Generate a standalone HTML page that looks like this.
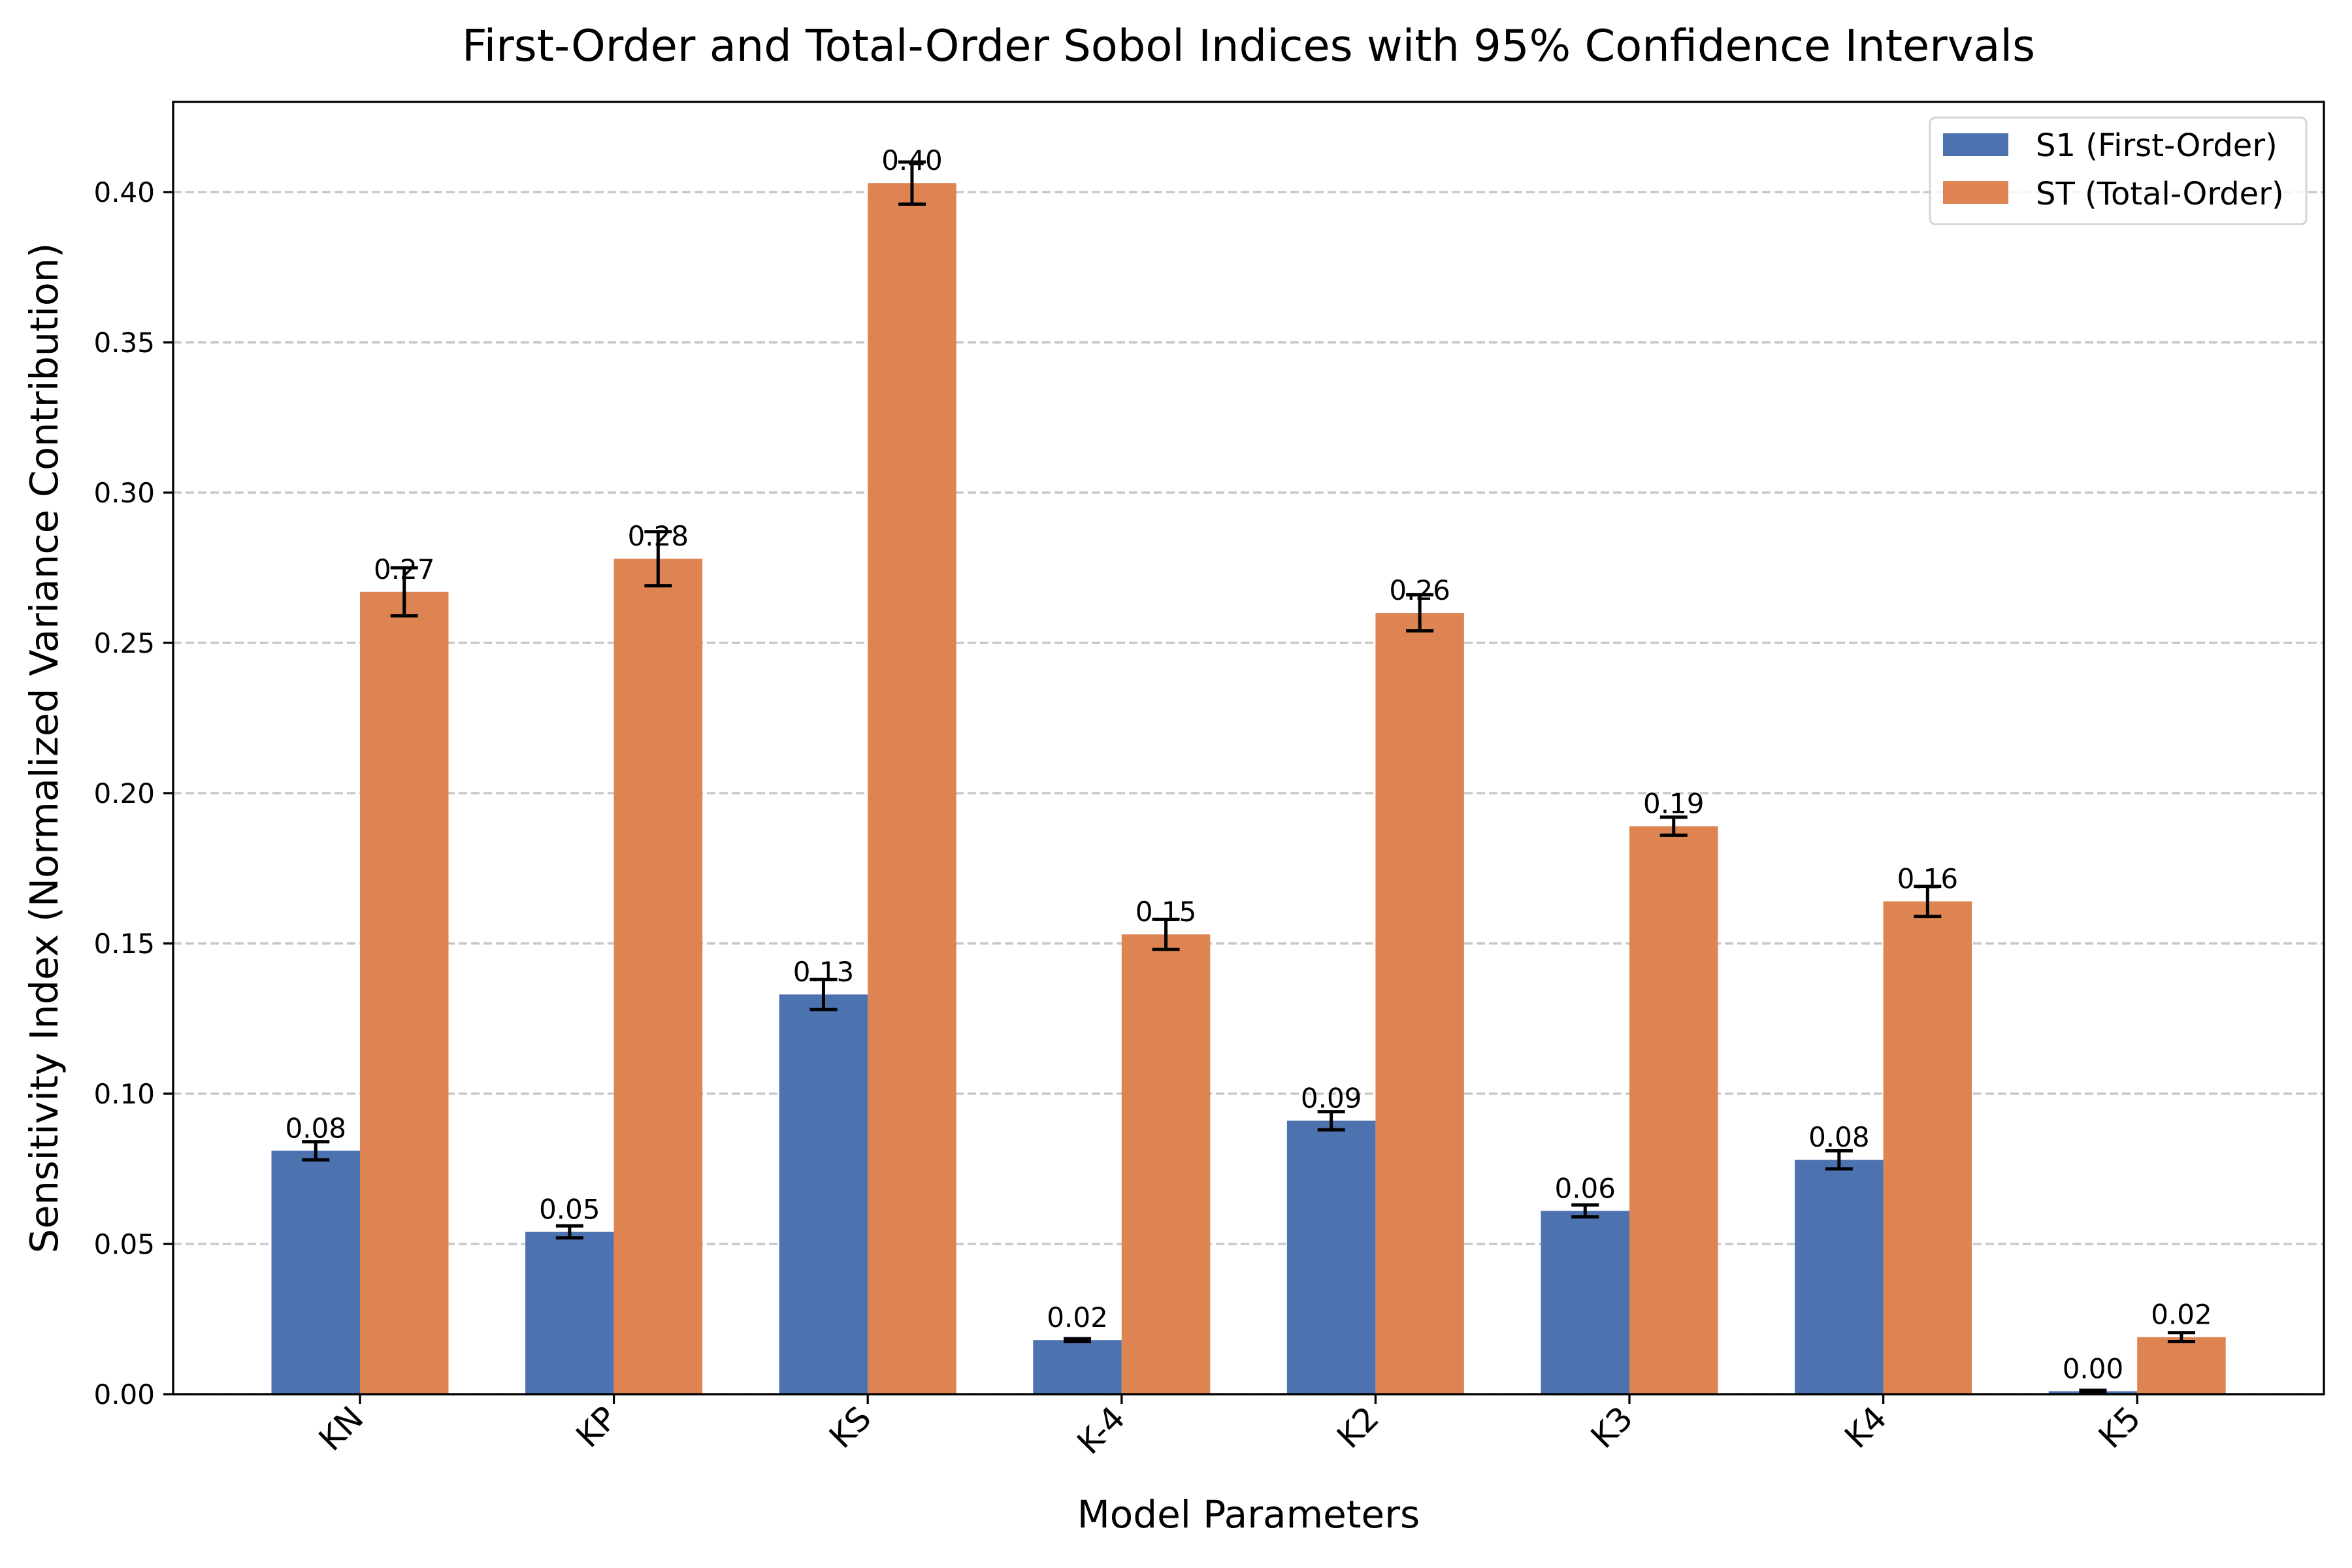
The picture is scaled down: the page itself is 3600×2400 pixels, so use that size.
<!DOCTYPE html>
<html><head><meta charset="utf-8"><style>
html,body{margin:0;padding:0;background:#fff}
svg{display:block;font-family:"DejaVu Sans","Liberation Sans",sans-serif}
</style></head><body>
<svg id="chart" width="3600" height="2400" viewBox="0 0 3600 2400" xmlns="http://www.w3.org/2000/svg">
<rect width="3600" height="2400" fill="#fff"/>
<text x="1911" y="93" font-size="67" text-anchor="middle">First-Order and Total-Order Sobol Indices with 95% Confidence Intervals</text>
<g id="grid"></g>
<g id="bars"></g>
<g id="axes"></g>
<text x="1911" y="2338" font-size="58" text-anchor="middle">Model Parameters</text>
<text transform="translate(88,1145) rotate(-90)" font-size="59" text-anchor="middle">Sensitivity Index (Normalized Variance Contribution)</text>
<g>
<rect x="2954" y="180" width="576" height="163" rx="8" fill="#fff" fill-opacity="0.8" stroke="#d5d5d5" stroke-width="3"/>
<rect x="2974" y="204" width="100" height="35" fill="#4c72b0"/>
<text x="3116" y="239" font-size="48">S1 (First-Order)</text>
<rect x="2974" y="277" width="100" height="35" fill="#dd8452"/>
<text x="3116" y="313" font-size="48">ST (Total-Order)</text>
</g>
</svg>
<script>
const categories = ["KN","KP","KS","K-4","K2","K3","K4","K5"];
const s1Values = [0.081,0.054,0.133,0.018,0.091,0.061,0.078,0.001];
const s1Errors = [0.003,0.002,0.005,0.0005,0.003,0.002,0.003,0.0003];
const stValues = [0.267,0.278,0.403,0.153,0.260,0.189,0.164,0.019];
const stErrors = [0.008,0.009,0.007,0.005,0.006,0.003,0.005,0.0015];
const yTicks = [0,0.05,0.10,0.15,0.20,0.25,0.30,0.35,0.40];

const NS="http://www.w3.org/2000/svg";
const L=265,R=3557,T=156,B=2134;
const X0=551,STEP=388.6,BW=135.5;
function xC(i){return X0+i*STEP;}
function yS(v){return B-v*4600;}
function mk(tag,attrs,parent){const e=document.createElementNS(NS,tag);for(const k in attrs)e.setAttribute(k,attrs[k]);parent.appendChild(e);return e;}
const grid=document.getElementById('grid'),bars=document.getElementById('bars'),axes=document.getElementById('axes');

yTicks.forEach(v=>{
  const y=yS(v);
  const g=mk('line',{x1:L,x2:R,y1:y,y2:y,stroke:'#c8c8c8','stroke-width':3.5,'stroke-dasharray':'13,6'},grid);
  
  
  const t=mk('line',{x1:L-15,x2:L,y1:y,y2:y,stroke:'#000','stroke-width':3.3},axes);
  
  
  const lb=mk('text',{x:L-28,y:y+15,'font-size':42,'text-anchor':'end'},axes);
  lb.textContent=v.toFixed(2);
  
  
});

function drawSeries(vals,errs,color,off,name){
  vals.forEach((v,i)=>{
    const cx=xC(i)+off, x=cx-BW/2;
    const r=mk('rect',{x:x,y:yS(v),width:BW,height:B-yS(v),fill:color},bars);
    
    
    const e=errs[i], y1=yS(v+e), y2=yS(v-e);
    const eb=mk('path',{d:`M${cx},${y1}V${y2}M${cx-21},${y1}H${cx+21}M${cx-21},${y2}H${cx+21}`,stroke:'#000','stroke-width':5,fill:'none'},bars);
    
    
    const lb=mk('text',{x:cx,y:yS(v)-20,'font-size':42,'text-anchor':'middle'},bars);
    lb.textContent=v.toFixed(2);
    
    
  });
}
drawSeries(s1Values,s1Errors,'#4c72b0',-BW/2,'s1');
drawSeries(stValues,stErrors,'#dd8452',BW/2,'st');

categories.forEach((c,i)=>{
  const x=xC(i);
  const t=mk('line',{x1:x,x2:x,y1:B,y2:B+15,stroke:'#000','stroke-width':3.3},axes);
  
  
  const lb=mk('text',{transform:`translate(${x+8},${B+40}) rotate(-45)`,'font-size':50,'text-anchor':'end'},axes);
  lb.textContent=c;
  
  
});
const frame=mk('rect',{x:L,y:T,width:R-L,height:B-T,fill:'none',stroke:'#000','stroke-width':3.3},axes);


</script>
</body></html>
